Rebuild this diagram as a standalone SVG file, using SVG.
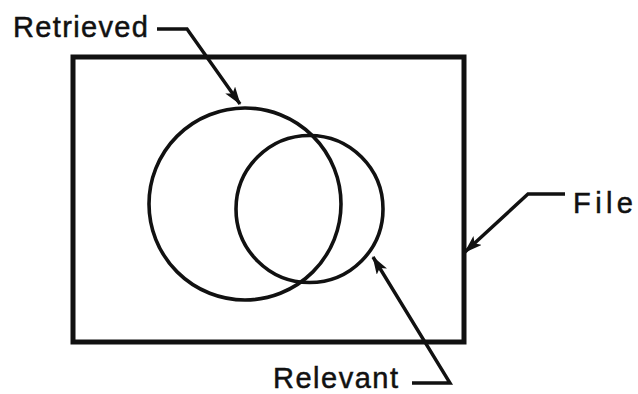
<svg xmlns="http://www.w3.org/2000/svg" width="638" height="394" viewBox="0 0 638 394">
<style>
.shape{fill:none;stroke:#111;stroke-width:3.6}
.frame{fill:none;stroke:#111;stroke-width:5;stroke-linejoin:miter}
.lead{fill:none;stroke:#111;stroke-width:3.4;stroke-linejoin:miter}
.lbl{font-family:"Liberation Sans",Arial,sans-serif;font-size:29px;fill:#111;stroke:#111;stroke-width:0.5}
</style>
<defs>
<marker id="ah" markerUnits="userSpaceOnUse" markerWidth="20" markerHeight="14" refX="17" refY="6" orient="auto">
<path d="M0,0 L18,6 L0,12 L4,6 Z" fill="#111"/>
</marker>
</defs>
<rect width="638" height="394" fill="#fff"/>
<g id="file"><rect class="frame" x="73" y="57" width="391" height="285"/></g>
<g id="retrieved"><circle class="shape" cx="245" cy="204" r="96"/></g>
<g id="relevant"><circle class="shape" cx="309.5" cy="209" r="73.5"/></g>
<g id="labels">
<text class="lbl" x="13" y="37" textLength="135" lengthAdjust="spacing">Retrieved</text>
<text class="lbl" x="573" y="213" textLength="60" lengthAdjust="spacing">File</text>
<text class="lbl" x="273" y="388" textLength="125" lengthAdjust="spacing">Relevant</text>
</g>
<g id="connectors">
<polyline class="lead" points="157,29 187,29 240,104" marker-end="url(#ah)"/>
<polyline class="lead" points="565,194 528,194 465,252" marker-end="url(#ah)"/>
<polyline class="lead" points="412,383 450,383 373,257" marker-end="url(#ah)"/>
</g>
</svg>
